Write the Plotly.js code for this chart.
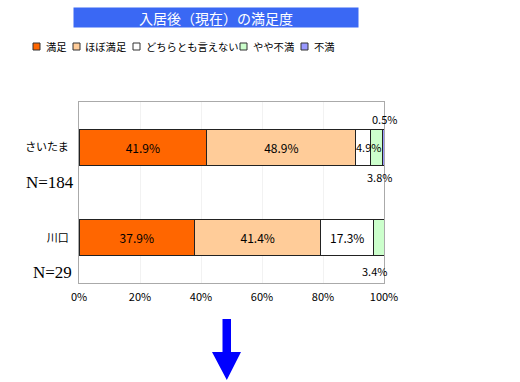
<!DOCTYPE html>
<html><head><meta charset="utf-8">
<script src="https://cdn.plot.ly/plotly-3.0.1.min.js"></script>
<style>html,body{margin:0;padding:0;background:#fff}</style>
</head><body>
<div id="chart" style="width:520px;height:382px"></div>
<script>
const categories = ['さいたま', '川口'];
const nLabels = ['N=184', 'N=29'];
const seriesNames = ['満足', 'ほぼ満足', 'どちらとも言えない', 'やや不満', '不満'];
const saitama = [41.9, 48.9, 4.9, 3.8, 0.5];
const kawaguchi = [37.9, 41.4, 17.3, 3.4, 0];
const colors = ['#FF6600', '#FFCC99', '#FFFFFF', '#CCFFCC', '#9999FF'];
const xTicks = [0, 20, 40, 60, 80, 100];
const titleText = '入居後（現在）の満足度';

const W = 520, H = 382, L = 79, R = 384, T = 102, B = 283;
const px = v => (v - L) / (R - L);
const py = v => (B - v) / (B - T);

const jp = '"Noto Sans CJK JP", "Noto Sans", sans-serif';
const values = [saitama, kawaguchi];

const traces = seriesNames.map((name, i) => ({
  type: 'bar', orientation: 'h', name: name,
  y: categories,
  x: values.map(v => v[i]),
  text: values.map(v => v[i] >= 5 ? v[i].toFixed(1) + '%' : ''),
  textposition: 'inside', insidetextanchor: 'middle', textangle: 0,
  constraintext: 'none',
  textfont: {family: jp, size: 12, color: '#000'},
  marker: {color: colors[i], line: {color: '#222', width: 1}},
  width: 0.4, hoverinfo: 'skip'
}));

const cum = (arr, i) => arr.slice(0, i).reduce((a, b) => a + b, 0) + arr[i] / 2;
const annotations = [];
const small = [
  {row: 0, idx: 2, ys: 0, xs: 5},
  {row: 0, idx: 3, ys: -30, xs: 3},
  {row: 0, idx: 4, ys: 28, xs: 1},
  {row: 1, idx: 3, ys: -33, xs: -4}
];
small.forEach(s => {
  const arr = values[s.row];
  annotations.push({
    x: cum(arr, s.idx), y: categories[s.row], xref: 'x', yref: 'y',
    xanchor: 'center', yanchor: 'middle',
    text: arr[s.idx].toFixed(1) + '%', showarrow: false,
    xshift: s.xs, yshift: s.ys,
    font: {family: jp, size: 11, color: '#000'}
  });
});
annotations.push({x: px(76), y: py(182), xref: 'paper', yref: 'paper', xanchor: 'right', yanchor: 'middle',
  text: nLabels[0], showarrow: false, font: {family: '"Liberation Serif", serif', size: 17, color: '#000'}});
annotations.push({x: px(74), y: py(272), xref: 'paper', yref: 'paper', xanchor: 'right', yanchor: 'middle',
  text: nLabels[1], showarrow: false, font: {family: '"Liberation Serif", serif', size: 17, color: '#000'}});
annotations.push({x: px(73), y: py(7), xref: 'paper', yref: 'paper', xanchor: 'left', yanchor: 'top',
  width: 284, height: 19, borderpad: 0, bgcolor: '#3A68F4', align: 'center', valign: 'middle',
  text: titleText, showarrow: false, font: {family: jp, size: 14, color: '#fff'}});

const legendSquares = [33, 73, 133, 240, 301];
const legendTexts = [44, 83, 144, 251, 312];
const shapes = [];
seriesNames.forEach((n, i) => {
  shapes.push({type: 'rect', xref: 'paper', yref: 'paper',
    x0: px(legendSquares[i]), x1: px(legendSquares[i] + 7), y0: py(50), y1: py(43),
    fillcolor: colors[i], line: {color: '#333', width: 1}});
  annotations.push({x: px(legendTexts[i]), y: py(46.5), xref: 'paper', yref: 'paper',
    xanchor: 'left', yanchor: 'middle', text: n, showarrow: false,
    font: {family: jp, size: 10.3, color: '#000'}});
});
const ax = [222.5, 231, 241, 226.8, 212];
let path = 'M ' + px(ax[0]) + ' ' + py(319) + ' L ' + px(ax[1]) + ' ' + py(319) +
  ' L ' + px(ax[1]) + ' ' + py(352) + ' L ' + px(ax[2]) + ' ' + py(352) +
  ' L ' + px(ax[3]) + ' ' + py(380) + ' L ' + px(ax[4]) + ' ' + py(352) +
  ' L ' + px(ax[0]) + ' ' + py(352) + ' Z';
shapes.push({type: 'path', xref: 'paper', yref: 'paper', path: path,
  fillcolor: '#0000FF', line: {width: 0}});

const layout = {
  width: W, height: H,
  margin: {l: L, r: W - R, t: T, b: H - B, pad: 0},
  paper_bgcolor: '#fff', plot_bgcolor: '#fff',
  barmode: 'stack', showlegend: false,
  xaxis: {range: [0, 100], tickvals: xTicks, ticktext: xTicks.map(v => v + '%'),
    showgrid: true, gridcolor: '#f2f2f2', zeroline: false,
    showline: true, mirror: true, linecolor: '#aaa', linewidth: 1,
    ticks: '', ticklabelstandoff: 4,
    tickfont: {family: jp, size: 11, color: '#000'}, fixedrange: true},
  yaxis: {type: 'category', categoryorder: 'array', categoryarray: categories.slice().reverse(),
    range: [-0.5, 1.5], showgrid: false, zeroline: false,
    showline: true, mirror: true, linecolor: '#aaa', linewidth: 1,
    ticks: '', ticklabelstandoff: 7,
    tickfont: {family: jp, size: 11, color: '#000'}, fixedrange: true},
  annotations: annotations, shapes: shapes
};
Plotly.newPlot('chart', traces, layout, {staticPlot: true, displayModeBar: false});
</script>
</body></html>
